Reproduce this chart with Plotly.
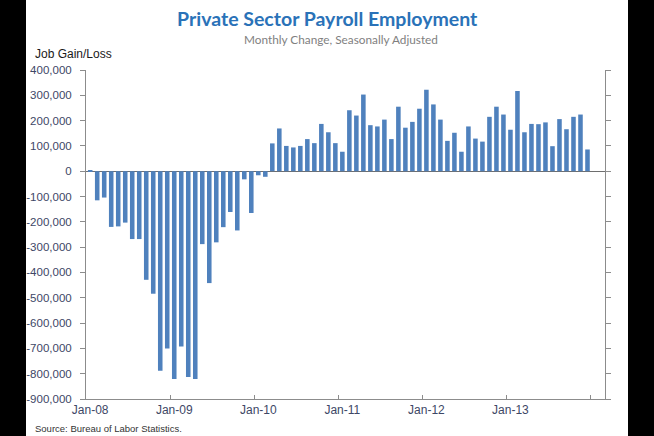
import plotly.graph_objects as go

months = [f"{m}-{y}" for y in ["08", "09", "10", "11", "12", "13"]
          for m in ["Jan", "Feb", "Mar", "Apr", "May", "Jun", "Jul", "Aug", "Sep", "Oct", "Nov", "Dec"]]

v2008 = [4000, -115000, -104000, -220000, -218000, -203000, -268000, -268000, -429000, -484000, -788000, -700000]
v2009 = [-821000, -693000, -813000, -821000, -288000, -442000, -281000, -221000, -161000, -234000, -32000, -165000]
v2010 = [-16000, -22000, 110000, 169000, 100000, 94000, 100000, 127000, 111000, 187000, 154000, 111000]
v2011 = [77000, 241000, 220000, 303000, 182000, 177000, 204000, 127000, 255000, 172000, 195000, 247000]
v2012 = [322000, 264000, 204000, 120000, 152000, 77000, 177000, 129000, 117000, 215000, 255000, 224000]
v2013 = [164000, 317000, 154000, 187000, 186000, 193000, 99000, 206000, 166000, 215000, 224000, 86000]
values = v2008 + v2009 + v2010 + v2011 + v2012 + v2013

tick_labels = ["Jan-08", "Jan-09", "Jan-10", "Jan-11", "Jan-12", "Jan-13"]
y_ticks = list(range(-900000, 400001, 100000))

x = list(range(len(values)))
label_pos = [months.index(t) for t in tick_labels]
boundaries = [i - 0.5 for i in range(12, len(values) + 1, 12)]

fig = go.Figure()
fig.add_trace(go.Bar(x=x, y=values, marker=dict(color="#4F81BD", line=dict(width=0)),
                     hovertext=months, showlegend=False))

L, R, T, B = 86, 49, 70, 37
W, H = 654, 436
pw, ph = W - L - R, H - T - B

def px(xp):
    return (xp - L) / pw

def py(yp):
    return (H - B - yp) / ph

tick_col = "#3d4766"
fig.update_layout(
    width=W, height=H,
    margin=dict(l=L, r=R, t=T, b=B, pad=0),
    paper_bgcolor="white", plot_bgcolor="white",
    bargap=0.35,
    font=dict(family="Liberation Sans, Arial", color=tick_col),
    xaxis=dict(
        range=[-0.6, 73.5], tickmode="array", tickvals=label_pos, ticktext=tick_labels,
        ticks="", showgrid=False, zeroline=False, showline=True, linecolor="#8c8c8c", linewidth=1,
        tickfont=dict(size=12, color=tick_col),
        minor=dict(tickmode="array", tickvals=boundaries, ticks="inside", ticklen=4,
                   tickcolor="#8c8c8c", showgrid=False),
    ),
    yaxis=dict(
        range=[-900000, 400000], tickmode="array", tickvals=y_ticks,
        ticktext=[f"{v:,}" for v in y_ticks],
        ticks="outside", ticklen=5, tickcolor="#8c8c8c", showgrid=False,
        showline=True, linecolor="#8c8c8c", linewidth=1, mirror="ticks",
        zeroline=True, zerolinecolor="#6e6e6e", zerolinewidth=1,
        tickfont=dict(size=11.5, color=tick_col), ticklabelstandoff=6,
    ),
)

annotations = [
    dict(text="<b>Private Sector Payroll Employment</b>", x=px(327), y=py(18),
         font=dict(family="Lato", size=19.5, color="#2A72B8")),
    dict(text="Monthly Change, Seasonally Adjusted", x=px(341), y=py(39),
         font=dict(family="Lato", size=11.8, color="#7f7f7f")),
]
for a in annotations:
    a.update(xref="paper", yref="paper", xanchor="center", yanchor="middle", showarrow=False)
fig.add_annotation(text="Job Gain/Loss", x=px(33), y=py(54), xref="paper", yref="paper",
                   xanchor="left", yanchor="middle", showarrow=False,
                   font=dict(family="Liberation Sans, Arial", size=12, color="#1a1a1a"))
fig.add_annotation(text="Source: Bureau of Labor Statistics.", x=px(33), y=py(428), xref="paper", yref="paper",
                   xanchor="left", yanchor="middle", showarrow=False,
                   font=dict(family="Liberation Sans, Arial", size=9.5, color="#333333"))
for a in annotations:
    fig.add_annotation(**a)

# black side bands of the reference image
for x0, x1 in [(0, 26), (628, 654)]:
    fig.add_shape(type="rect", xref="paper", yref="paper", x0=px(x0), x1=px(x1),
                  y0=py(H + 2), y1=py(-2), fillcolor="black", line=dict(width=0), layer="above")

fig.write_html("out.html", config={"displayModeBar": False},
               post_script="document.body.style.margin='0px';document.body.style.overflow='hidden';")
